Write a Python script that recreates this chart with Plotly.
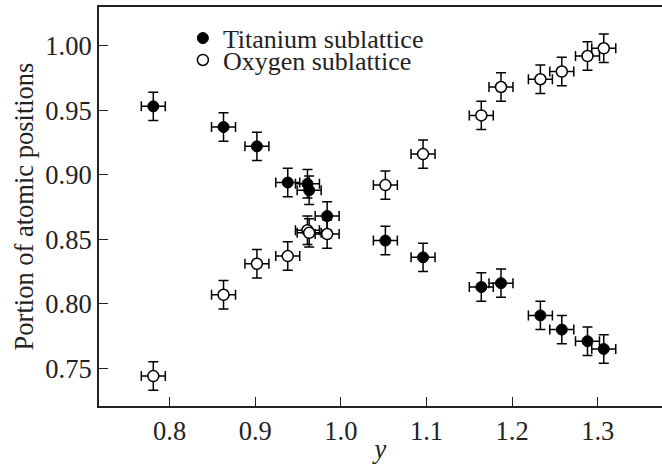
import plotly.graph_objects as go

y_param = [0.781, 0.863, 0.902, 0.938, 0.961, 0.963, 0.984, 1.052, 1.096,
           1.164, 1.187, 1.233, 1.258, 1.288, 1.307]
ti_portion = [0.953, 0.937, 0.922, 0.894, 0.893, 0.888, 0.868, 0.849, 0.836,
              0.813, 0.816, 0.791, 0.780, 0.771, 0.765]
o_portion = [0.744, 0.807, 0.831, 0.837, 0.857, 0.855, 0.854, 0.892, 0.916,
             0.946, 0.968, 0.974, 0.980, 0.992, 0.998]
x_err = 0.014
y_err = 0.011
x_ticks = [0.8, 0.9, 1.0, 1.1, 1.2, 1.3]
x_tick_labels = ["0.8", "0.9", "1.0", "1.1", "1.2", "1.3"]
y_ticks = [0.75, 0.80, 0.85, 0.90, 0.95, 1.00]
y_tick_labels = ["0.75", "0.80", "0.85", "0.90", "0.95", "1.00"]

FONT = "Liberation Serif, Times New Roman, Times, serif"
err_style = dict(type="constant", thickness=1.5, width=5, color="black")

fig = go.Figure()
fig.add_trace(go.Scatter(
    x=y_param, y=ti_portion, mode="markers", name="Titanium sublattice",
    marker=dict(size=11, color="black", line=dict(color="black", width=1)),
    error_x=dict(value=x_err, **err_style),
    error_y=dict(value=y_err, **err_style),
    legend="legend", showlegend=True,
))
fig.add_trace(go.Scatter(
    x=y_param, y=o_portion, mode="markers", name="Oxygen sublattice",
    marker=dict(size=11, color="white", line=dict(color="black", width=1.5)),
    error_x=dict(value=x_err, **err_style),
    error_y=dict(value=y_err, **err_style),
    legend="legend2", showlegend=True,
))

axis_common = dict(
    showline=True, linecolor="#222", linewidth=2,
    ticks="inside", ticklen=9, tickwidth=1.2, tickcolor="#222",
    showgrid=False, zeroline=False,
    tickfont=dict(family=FONT, size=26.5, color="#222"),
)
fig.update_layout(
    width=662, height=464,
    showlegend=True,
    margin=dict(l=99, r=0, t=7, b=56),
    paper_bgcolor="white", plot_bgcolor="white",
    xaxis=dict(range=[0.7176, 1.375], tickvals=x_ticks, ticktext=x_tick_labels,
               mirror=True,
               title=dict(text="<i>y</i>", font=dict(family=FONT, size=26.5, color="#222"),
                          standoff=0),
               **axis_common),
    yaxis=dict(range=[0.7208, 1.030], tickvals=y_ticks, ticktext=y_tick_labels,
               title=dict(text="Portion of atomic positions",
                          font=dict(family=FONT, size=26.5, color="#222"), standoff=4),
               **axis_common),
    legend=dict(x=0.149, y=0.922, xanchor="left", yanchor="middle",
                bgcolor="rgba(0,0,0,0)", itemwidth=30,
                font=dict(family=FONT, size=26, color="#222")),
    legend2=dict(x=0.149, y=0.867, xanchor="left", yanchor="middle",
                 bgcolor="rgba(0,0,0,0)", itemwidth=30,
                 font=dict(family=FONT, size=26, color="#222")),
)
fig.write_html("out.html")
